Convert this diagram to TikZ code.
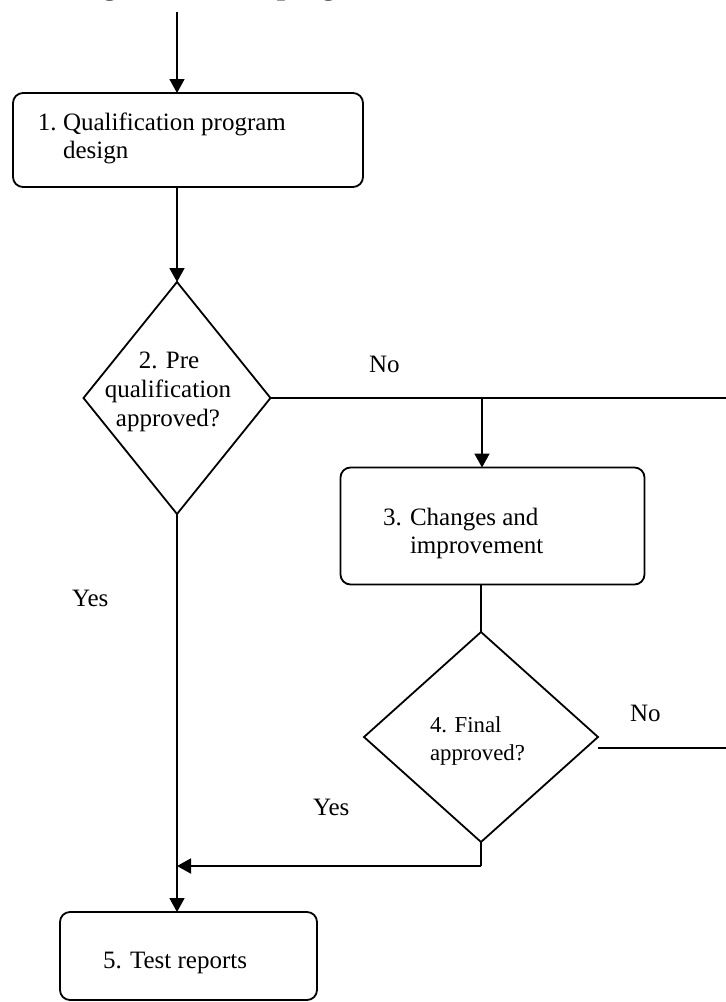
\documentclass[tikz,border=0pt]{standalone}
\usepackage{fontspec}
\setmainfont{Liberation Serif}
\usetikzlibrary{arrows.meta,shapes.geometric}

\tikzset{
  flow/.style={line width=0.9pt},
  arr/.style={flow,-{Triangle[length=7pt,width=7.5pt]}},
  stepbox/.style={draw,line width=0.9pt,rounded corners=5pt,inner sep=0pt,outer sep=0pt},
  decision/.style={draw,diamond,line width=0.9pt,inner sep=0pt,outer sep=0pt},
  txt/.style={inner sep=0pt,outer sep=0pt,font=\fontsize{12.5pt}{14pt}\selectfont},
  small/.style={inner sep=0pt,outer sep=0pt,font=\fontsize{11.4pt}{14pt}\selectfont},
}

\begin{document}
\begin{tikzpicture}[x=0.5pt,y=-0.5pt]
\useasboundingbox (0,0) rectangle (726,1002);

% heading (only its descenders fall inside the page)
\node[inner sep=0pt,anchor=base west,font=\fontsize{15pt}{18pt}\selectfont\bfseries]
  (title) at (-8.5,-6) {Flow diagram for test program};

% process boxes
\node[stepbox,minimum width=175pt,minimum height=47pt] (b1) at (188,140) {};
\node[stepbox,minimum width=152pt,minimum height=58.5pt] (b3) at (492.5,526) {};
\node[stepbox,minimum width=128.5pt,minimum height=44pt] (b5) at (188.5,956) {};

% decisions
\node[decision,minimum width=93.5pt,minimum height=116pt] (d2) at (177,398) {};
\node[decision,minimum width=117pt,minimum height=105pt] (d4) at (481,737) {};

% box texts
\node[txt,anchor=base west] (t1a) at (38,130) {1.};
\node[txt,anchor=base west] (t1b) at (63,130) {Qualification program};
\node[txt,anchor=base west] (t1c) at (63,158) {design};

\node[txt,anchor=base] (t2a) at (169,368) {2. Pre};
\node[txt,anchor=base] (t2b) at (168,397) {qualification};
\node[txt,anchor=base] (t2c) at (168,426) {approved?};

\node[txt,anchor=base west] (t3a) at (383,525) {3.};
\node[txt,anchor=base west] (t3b) at (410,525) {Changes and};
\node[txt,anchor=base west] (t3c) at (410,553) {improvement};

\node[small,anchor=base west] (t4a) at (430,732) {4. Final};
\node[small,anchor=base west] (t4b) at (430,760) {approved?};

\node[txt,anchor=base west] (t5) at (103,968) {5. Test reports};

% branch labels
\node[txt,anchor=base west] (no1) at (369,372) {No};
\node[txt,anchor=base west] (yes1) at (72,606) {Yes};
\node[txt,anchor=base west] (no2) at (630,721) {No};
\node[txt,anchor=base west] (yes2) at (313,815) {Yes};

% connector helpers
\coordinate (in) at (177,12);
\coordinate (j1) at (482,398);
\coordinate (e1) at (732,398);
\coordinate (f1) at (598,748);
\coordinate (e2) at (732,748);
\coordinate (k1) at (481,866);
\coordinate (j2) at (177,866);

% connectors
\draw[arr] (in) -- (in |- b1.north);
\draw[arr] (in |- b1.south) -- (d2.north);
\draw[flow] (d2.east) -- (e1);
\draw[arr] (j1) -- (j1 |- b3.north);
\draw[flow] (d4.north |- b3.south) -- (d4.north);
\draw[flow] (f1) -- (e2);
\draw[flow] (d4.south) -- (k1);
\draw[arr] (k1) -- (j2);
\draw[arr] (d2.south) -- (d2.south |- b5.north);
\end{tikzpicture}
\end{document}
